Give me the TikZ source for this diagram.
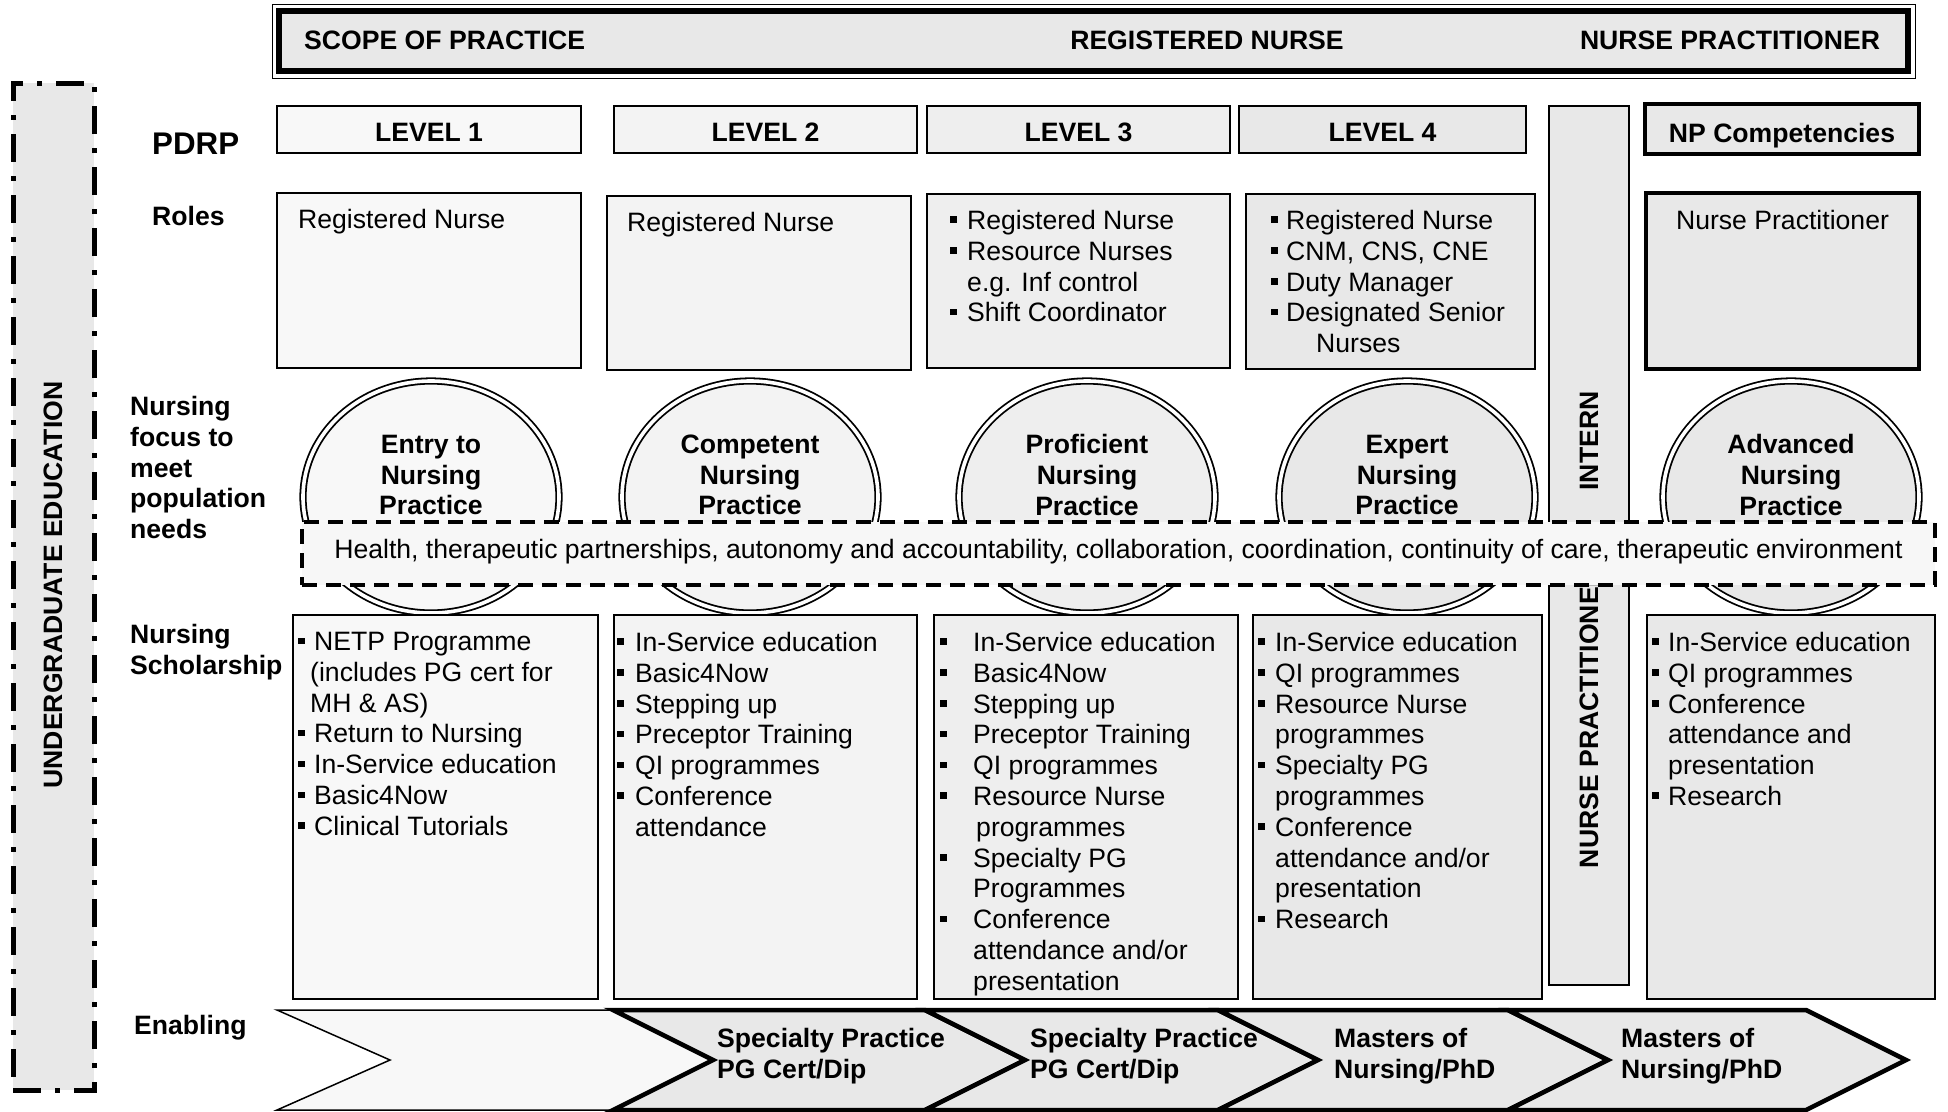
\documentclass[tikz,border=0pt]{standalone}
\usepackage{fontspec}
\setmainfont{Liberation Sans}
\usetikzlibrary{positioning,shapes.geometric}

\definecolor{paleA}{HTML}{F8F8F8}
\definecolor{paleB}{HTML}{F3F3F3}
\definecolor{paleC}{HTML}{EEEEEE}
\definecolor{paleD}{HTML}{E8E8E8}
\definecolor{bandfill}{HTML}{F7F7F7}

\newcommand{\diagfont}{\fontsize{26.6}{30.8}\selectfont}
\newcommand{\sqb}[1][16pt]{\makebox[#1][l]{\rule[6.5pt]{6.5pt}{6.5pt}}}

\begin{document}
\begin{tikzpicture}[x=1pt, y=-1pt, font=\diagfont,
		box/.style={draw, line width=2pt, inner sep=0pt, outer sep=0pt, anchor=north west},
		heavy/.style={box, line width=4.5pt},
		head/.style={font=\diagfont\bfseries, inner sep=0pt},
		lvl/.style={box, head, text height=24pt, text depth=0pt, minimum height=47pt},
		txt/.style={inner sep=0pt, align=left},
		stage/.style={ellipse, draw, line width=1.8pt, double, double distance=3.6pt,
			minimum width=256pt, minimum height=232pt, inner sep=0pt},
		chev/.style={draw, line width=4.5pt, fill=paleD, line join=miter}]
		
		\useasboundingbox (0,0) rectangle (1948,1111);
		
		% undergraduate strip
		\node[box, fill=paleD, line width=5pt, dash pattern=on 28pt off 14pt on 5pt off 14pt,
			minimum width=81pt, minimum height=1007pt] (ug) at (13,83) {};
		\node[head, rotate=90] (ugt) at (53,585) {UNDERGRADUATE EDUCATION};
		
		% scope banner
		\node[box, line width=1pt, minimum width=1643pt, minimum height=74pt] (scope) at (272,4) {};
		\node[box, line width=6.5pt, fill=paleD, minimum width=1629pt, minimum height=60pt] (scopein) at (279,11) {};
		\node[head, anchor=west] (sop) at (304,40) {SCOPE OF PRACTICE};
		\node[head] (rn) at (1207,40) {REGISTERED NURSE};
		\node[head] (np) at (1730,40) {NURSE PRACTITIONER};
		
		% row labels
		\node[head, anchor=west, font=\fontsize{31.3}{36}\selectfont\bfseries] (pdrp) at (152,144) {PDRP};
		\node[head, anchor=west] (roles) at (152,216) {Roles};
		\node[head, anchor=north west, align=left] (focus) at (130,396) {Nursing\\focus to\\meet\\population\\needs};
		\node[head, anchor=north west, align=left] (schol) at (130,624) {Nursing\\Scholarship};
		\node[head, anchor=west] (enab) at (134,1028) {Enabling};
		
		% levels
		\node[lvl, fill=paleA, minimum width=304pt] (l1) at (277,106) {LEVEL 1};
		\node[lvl, fill=paleB, minimum width=303pt] (l2) at (614,106) {LEVEL 2};
		\node[lvl, fill=paleC, minimum width=303pt] (l3) at (927,106) {LEVEL 3};
		\node[lvl, fill=paleD, minimum width=287pt] (l4) at (1239,106) {LEVEL 4};
		\node[heavy, head, fill=paleD, text height=27pt, text depth=0pt,
			minimum width=274pt, minimum height=50pt] (npc) at (1645,104) {NP Competencies};
		
		% roles
		\node[box, fill=paleA, minimum width=304pt, minimum height=175pt] (r1) at (277,193) {};
		\node[box, fill=paleB, minimum width=304pt, minimum height=174pt] (r2) at (607,196) {};
		\node[box, fill=paleC, minimum width=303pt, minimum height=174pt] (r3) at (927,194) {};
		\node[box, fill=paleD, minimum width=289pt, minimum height=175pt] (r4) at (1246,194) {};
		\node[heavy, fill=paleD, minimum width=273pt, minimum height=176pt] (rnp) at (1646,193) {};
		
		\node[txt, below right=16pt and 21pt of r1.north west] (r1t) {Registered Nurse};
		\node[txt, below right=16pt and 20pt of r2.north west] (r2t) {Registered Nurse};
		\node[txt, below right=16pt and 23pt of r3.north west] (r3t)
			{\sqb[17pt]Registered Nurse\\\sqb[17pt]Resource Nurses\\\hspace*{17pt}e.g. Inf control\\\sqb[17pt]Shift Coordinator};
		\node[txt, below right=16pt and 25pt of r4.north west] (r4t)
			{\sqb[15pt]Registered Nurse\\\sqb[15pt]CNM, CNS, CNE\\\sqb[15pt]Duty Manager\\\sqb[15pt]Designated Senior\\\hspace*{45pt}Nurses};
		\node[txt, below=17pt of rnp.north] (rnpt) {Nurse Practitioner};
		
		% intern column
		\node[box, fill=paleD, minimum width=80pt, minimum height=879pt] (npcol) at (1549,106) {};
		\node[head, rotate=90] (intern) at (1589,441) {INTERN};
		\node[head, rotate=90] (npract) at (1589,718) {NURSE PRACTITIONER};
		
		% practice stages
		\node[stage, fill=paleA] (e1) at (431,497) {};
		\node[stage, fill=paleB] (e2) at (750,497) {};
		\node[stage, fill=paleC] (e3) at (1087,497) {};
		\node[stage, fill=paleD] (e4) at (1407,497) {};
		\node[stage, fill=paleD] (e5) at (1791,497) {};
		\node[head, align=center] (e1t) at ([yshift=22pt]e1.center) {Entry to\\Nursing\\Practice};
		\node[head, align=center] (e2t) at ([yshift=22pt]e2.center) {Competent\\Nursing\\Practice};
		\node[head, align=center] (e3t) at ([yshift=22pt]e3.center) {Proficient\\Nursing\\Practice};
		\node[head, align=center] (e4t) at ([yshift=22pt]e4.center) {Expert\\Nursing\\Practice};
		\node[head, align=center] (e5t) at ([yshift=22pt]e5.center) {Advanced\\Nursing\\Practice};
		
		% scholarship
		\node[box, fill=paleA, minimum width=305pt, minimum height=384pt] (s1) at (293,615) {};
		\node[box, fill=paleB, minimum width=303pt, minimum height=384pt] (s2) at (614,615) {};
		\node[box, fill=paleC, minimum width=304pt, minimum height=384pt] (s3) at (934,615) {};
		\node[box, fill=paleD, minimum width=289pt, minimum height=384pt] (s4) at (1253,615) {};
		\node[box, fill=paleD, minimum width=288pt, minimum height=384pt] (s5) at (1647,615) {};
		
		\node[txt, below right=17pt and 5pt of s1.north west] (s1t)
			{\sqb NETP Programme\\\hspace*{12pt}(includes PG cert for\\\hspace*{12pt}MH \& AS)\\\sqb Return to Nursing\\
			\sqb In-Service education\\\sqb Basic4Now\\\sqb Clinical Tutorials};
		\node[txt, below right=17pt and 3pt of s2.north west] (s2t)
			{\sqb[18pt]In-Service education\\\sqb[18pt]Basic4Now\\\sqb[18pt]Stepping up\\\sqb[18pt]Preceptor Training\\
			\sqb[18pt]QI programmes\\\sqb[18pt]Conference\\\hspace*{18pt}attendance};
		\node[txt, below right=17pt and 6pt of s3.north west] (s3t)
			{\sqb[33pt]In-Service education\\\sqb[33pt]Basic4Now\\\sqb[33pt]Stepping up\\\sqb[33pt]Preceptor Training\\
			\sqb[33pt]QI programmes\\\sqb[33pt]Resource Nurse\\\hspace*{36pt}programmes\\\sqb[33pt]Specialty PG\\
			\hspace*{33pt}Programmes\\\sqb[33pt]Conference\\\hspace*{33pt}attendance and/or\\\hspace*{33pt}presentation};
		\node[txt, below right=17pt and 5pt of s4.north west] (s4t)
			{\sqb[17pt]In-Service education\\\sqb[17pt]QI programmes\\\sqb[17pt]Resource Nurse\\\hspace*{17pt}programmes\\
			\sqb[17pt]Specialty PG\\\hspace*{17pt}programmes\\\sqb[17pt]Conference\\\hspace*{17pt}attendance and/or\\
			\hspace*{17pt}presentation\\\sqb[17pt]Research};
		\node[txt, below right=17pt and 5pt of s5.north west] (s5t)
			{\sqb In-Service education\\\sqb QI programmes\\\sqb Conference\\\hspace*{16pt}attendance and\\
			\hspace*{16pt}presentation\\\sqb Research};
		
		% focus band
		\node[box, fill=bandfill, line width=3.5pt, dash pattern=on 15pt off 9pt, text depth=10pt,
			minimum width=1633pt, minimum height=63pt] (band) at (302,522)
			{Health, therapeutic partnerships, autonomy and accountability, collaboration, coordination, continuity of care, therapeutic environment};
		
		% enabling chevrons
		\draw[chev, line width=1.5pt, fill=paleA] (277,1010) -- (613,1010) -- (713,1060) -- (613,1110) -- (277,1110) -- (390,1060) -- cycle;
		\draw[chev] (613,1010) -- (925,1010) -- (1025,1060) -- (925,1110) -- (613,1110) -- (713,1060) -- cycle;
		\draw[chev] (925,1010) -- (1218,1010) -- (1318,1060) -- (1218,1110) -- (925,1110) -- (1025,1060) -- cycle;
		\draw[chev] (1218,1010) -- (1508,1010) -- (1608,1060) -- (1508,1110) -- (1218,1110) -- (1318,1060) -- cycle;
		\draw[chev] (1508,1010) -- (1806,1010) -- (1906,1060) -- (1806,1110) -- (1508,1110) -- (1608,1060) -- cycle;
		
		\node[head, align=left, anchor=north west] (c2t) at (717,1028) {Specialty Practice\\PG Cert/Dip};
		\node[head, align=left, anchor=north west] (c3t) at (1030,1028) {Specialty Practice\\PG Cert/Dip};
		\node[head, align=left, anchor=north west] (c4t) at (1334,1028) {Masters of\\Nursing/PhD};
		\node[head, align=left, anchor=north west] (c5t) at (1621,1028) {Masters of\\Nursing/PhD};
		
\end{tikzpicture}
\end{document}
